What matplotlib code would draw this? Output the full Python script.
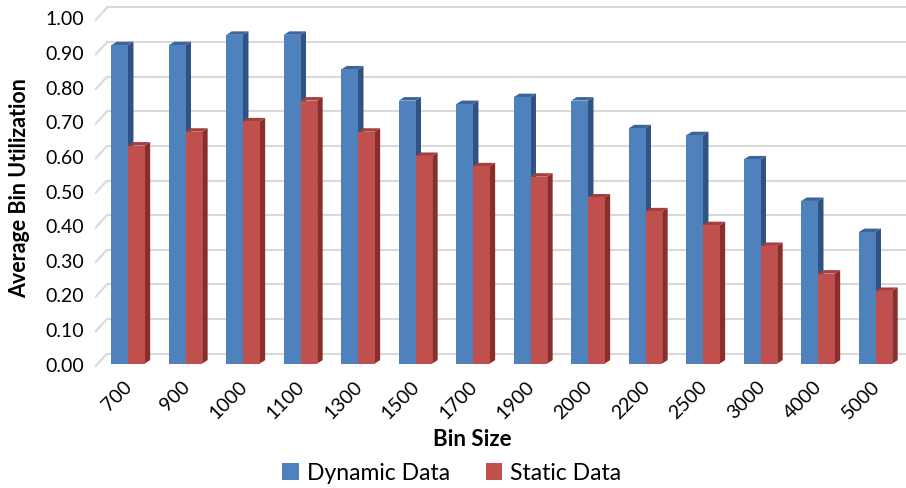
import matplotlib.pyplot as plt
from matplotlib.patches import Polygon
from matplotlib.transforms import blended_transform_factory

bin_sizes = ["700", "900", "1000", "1100", "1300", "1500", "1700",
             "1900", "2000", "2200", "2500", "3000", "4000", "5000"]
dynamic_data = [0.92, 0.92, 0.95, 0.95, 0.85, 0.76, 0.75,
                0.77, 0.76, 0.68, 0.66, 0.59, 0.47, 0.38]
static_data = [0.63, 0.67, 0.70, 0.76, 0.67, 0.60, 0.57,
               0.54, 0.48, 0.44, 0.40, 0.34, 0.26, 0.21]
y_ticks = [0.0, 0.1, 0.2, 0.3, 0.4, 0.5, 0.6, 0.7, 0.8, 0.9, 1.0]

plt.rcParams['font.family'] = ['Lato', 'DejaVu Sans']

# face, side, top colours for the fake 3d columns
blue = ("#4f81bd", "#2f5282", "#3c659c")
red = ("#c0504d", "#8a2e2c", "#a53f3c")

fig = plt.figure(figsize=(9.06, 4.89), dpi=100)
ax = fig.add_axes([95 / 906, 113 / 489, 811 / 906, 371 / 489])
ax.set_xlim(-0.574, 13.53)
ax.set_ylim(-0.033, 1.039)
for s in ax.spines.values():
    s.set_visible(False)
ax.set_xticks([])
ax.set_yticks(y_ticks)
ax.set_yticklabels([f"{v:.2f}" for v in y_ticks], fontsize=14)
ax.tick_params(axis='y', length=0, pad=8)

# back wall gridlines with the short slanted piece on the left wall
wall_dx = 0.21
wall_dy = 0.029
for v in y_ticks:
    ax.plot([-0.574, -0.574 + wall_dx], [v - 0.009, v + wall_dy],
            color="#d9d9d9", lw=1.5, zorder=1, solid_capstyle='butt')
    ax.plot([-0.574 + wall_dx, 13.53], [v + wall_dy, v + wall_dy],
            color="#d9d9d9", lw=1.5, zorder=1)

bar_w = 0.29
dx = 0.095
dy = 0.01


def column(x0, h, cols, z):
    face, side, top = cols
    x1 = x0 + bar_w
    ax.add_patch(Polygon([(x1, 0), (x1 + dx, dy), (x1 + dx, h + dy), (x1, h)],
                         closed=True, fc=side, ec='none', zorder=z))
    ax.add_patch(Polygon([(x0, h), (x1, h), (x1 + dx, h + dy), (x0 + dx, h + dy)],
                         closed=True, fc=top, ec='none', zorder=z))
    ax.add_patch(Polygon([(x0, 0), (x1, 0), (x1, h), (x0, h)],
                         closed=True, fc=face, ec='none', zorder=z + 0.5))


for i in range(len(bin_sizes)):
    column(i - bar_w, dynamic_data[i], blue, 2 + i * 0.01)
    column(i, static_data[i], red, 3 + i * 0.01)

trans = blended_transform_factory(ax.transData, ax.transAxes)
for i, lab in enumerate(bin_sizes):
    ax.text(i - 0.08, -0.005, lab, transform=trans, rotation=45,
            ha='right', va='top', rotation_mode='anchor', fontsize=14)

fig.text(20 / 906, 1 - 188 / 489, "Average Bin Utilization", rotation=90,
         ha='center', va='center', fontsize=15.5, fontweight='bold')
fig.text(472 / 906, 1 - 440 / 489, "Bin Size", ha='center', va='center',
         fontsize=16, fontweight='bold')

handles = [plt.Rectangle((0, 0), 1, 1, fc=blue[0]),
           plt.Rectangle((0, 0), 1, 1, fc=red[0])]
fig.legend(handles, ["Dynamic Data", "Static Data"], loc='center',
           bbox_to_anchor=(452 / 906, 1 - 474 / 489), ncol=2, frameon=False,
           fontsize=16.5, handlelength=0.7, handleheight=0.7, handletextpad=0.35,
           columnspacing=1.6)

fig.savefig("out.png", dpi=100)
